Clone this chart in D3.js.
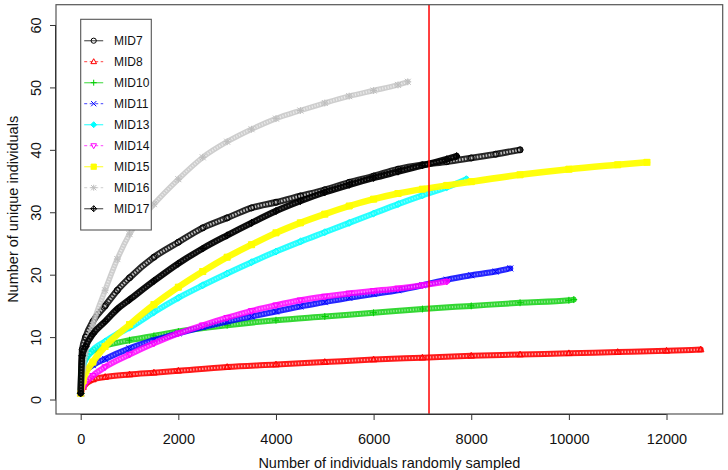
<!DOCTYPE html>
<html><head><meta charset="utf-8">
<script src="https://cdn.jsdelivr.net/npm/d3@7"></script>
<style>html,body{margin:0;padding:0;background:#fff;}svg{display:block;font-family:"Liberation Sans",Arial,Helvetica,sans-serif;}</style>
</head><body>
<svg id="chart" width="728" height="470"></svg>
<script>
// ---- data ----
const xTicks = [0, 2000, 4000, 6000, 8000, 10000, 12000];
const yTicks = [0, 10, 20, 30, 40, 50, 60];
const seriesNames = ["MID7", "MID8", "MID10", "MID11", "MID13", "MID14", "MID15", "MID16", "MID17"];
const seriesColors = ["#000000", "#FF0000", "#00CD00", "#0000FF", "#00FFFF", "#FF00FF", "#FFFF00", "#BEBEBE", "#000000"];
const seriesPch = [1, 2, 3, 4, 5, 6, 7, 8, 9];
const seriesDashed = [false, true, false, true, false, true, false, true, false];
const cutoffX = 7135;

const mid7X = [0, 30, 100, 250, 500, 750, 1000, 1500, 2000, 2500, 3000, 3500, 4000, 4500, 5000, 5500, 6000, 6500, 7000, 7500, 8000, 8500, 9000];
const mid7Y = [1, 8, 10, 12.5, 15, 17.5, 19.5, 22.8, 25.2, 27.5, 29.1, 30.7, 31.6, 32.6, 33.6, 34.8, 35.8, 36.9, 37.6, 38.1, 38.7, 39.3, 40];
const mid8X = [0, 50, 250, 500, 1000, 1500, 2000, 3000, 4000, 5000, 6000, 7000, 8000, 9000, 10000, 11000, 12000, 12700];
const mid8Y = [1, 2, 3.2, 3.6, 4, 4.3, 4.6, 5.2, 5.6, 6, 6.4, 6.7, 7, 7.2, 7.4, 7.6, 7.8, 8];
const mid10X = [0, 30, 100, 250, 500, 1000, 1500, 2000, 3000, 4000, 5000, 6000, 7000, 8000, 9000, 10000, 10100];
const mid10Y = [1, 5, 6.5, 7.8, 8.6, 9.5, 10.2, 10.9, 11.9, 12.7, 13.3, 13.9, 14.5, 15, 15.5, 15.9, 16];
const mid11X = [0, 50, 250, 500, 1000, 1500, 2000, 2500, 3000, 3500, 4000, 4500, 5000, 5500, 6000, 6500, 7000, 7500, 8000, 8500, 8800];
const mid11Y = [1, 4, 5.5, 6.5, 8.2, 9.5, 10.6, 11.6, 12.5, 13.3, 14.1, 14.9, 15.6, 16.3, 16.9, 17.5, 18.3, 19.2, 19.9, 20.5, 21];
const mid13X = [0, 50, 200, 500, 750, 1000, 1500, 2000, 2500, 3000, 3500, 4000, 4500, 5000, 5500, 6000, 6500, 7000, 7500, 7900];
const mid13Y = [1, 5.5, 7.5, 9.3, 10.5, 11.5, 14, 16.3, 18.3, 20.2, 22, 23.7, 25.3, 26.8, 28.3, 29.8, 31.3, 32.7, 34, 35.3];
const mid14X = [0, 50, 250, 500, 1000, 1500, 2000, 2500, 3000, 3500, 4000, 4500, 5000, 5500, 6000, 6500, 7000, 7500];
const mid14Y = [1, 2, 3.8, 5.2, 7.2, 9, 10.6, 11.9, 13.1, 14.2, 15.1, 15.9, 16.5, 17, 17.4, 17.8, 18.3, 18.9];
const mid15X = [0, 50, 250, 500, 1000, 1500, 2000, 2500, 3000, 3500, 4000, 4500, 5000, 5500, 6000, 6500, 7000, 7500, 8000, 9000, 10000, 11000, 11600];
const mid15Y = [1, 3, 6, 8.5, 12, 15.2, 18, 20.5, 22.8, 24.8, 26.7, 28.3, 29.7, 31, 32.1, 33, 33.7, 34.3, 34.9, 36, 36.9, 37.6, 38];
const mid16X = [0, 50, 100, 250, 500, 750, 1000, 1500, 2000, 2500, 3000, 3500, 4000, 4500, 5000, 5500, 6000, 6500, 6700];
const mid16Y = [1, 5, 7.5, 12, 17.5, 22.5, 26.5, 31.3, 35.3, 38.8, 41.3, 43.3, 45, 46.3, 47.5, 48.6, 49.5, 50.4, 50.9];
const mid17X = [0, 30, 100, 250, 500, 750, 1000, 1500, 2000, 2500, 3000, 3500, 4000, 4500, 5000, 5500, 6000, 6500, 7000, 7500, 7700];
const mid17Y = [1, 7, 8.5, 10.5, 12.5, 14.5, 16, 19, 21.8, 24.2, 26.3, 28.3, 30.2, 31.8, 33.2, 34.4, 35.5, 36.5, 37.5, 38.5, 39];

const seriesX = [mid7X, mid8X, mid10X, mid11X, mid13X, mid14X, mid15X, mid16X, mid17X];
const seriesY = [mid7Y, mid8Y, mid10Y, mid11Y, mid13Y, mid14Y, mid15Y, mid16Y, mid17Y];
const series = seriesNames.map((name, i) => ({
  name, color: seriesColors[i], pch: seriesPch[i], dashed: seriesDashed[i],
  pts: seriesX[i].map((x, j) => ({x, y: seriesY[i][j]}))
}));

// ---- layout ----
const W = 728, H = 470;
const plot = {left: 56, right: 722.7, top: 4.7, bottom: 414};
const x = d3.scaleLinear().domain([-506, 13151]).range([plot.left, plot.right]);
const y = d3.scaleLinear().domain([-2.32, 63.25]).range([plot.bottom, plot.top]);
const fontSize = 14.5;
const axisColor = "#333";

const svg = d3.select("#chart");
svg.append("rect").attr("width", W).attr("height", H).attr("fill", "#fff");

// symbol path generator (R pch style)
function pchPath(pch, r) {
  const p = d3.path();
  const t = r * 1.15;
  switch (pch) {
    case 1: p.moveTo(r, 0); p.arc(0, 0, r, 0, 2 * Math.PI); break;
    case 2: p.moveTo(0, -t); p.lineTo(t * 0.95, t * 0.65); p.lineTo(-t * 0.95, t * 0.65); p.closePath(); break;
    case 3: p.moveTo(-t, 0); p.lineTo(t, 0); p.moveTo(0, -t); p.lineTo(0, t); break;
    case 4: p.moveTo(-r, -r); p.lineTo(r, r); p.moveTo(-r, r); p.lineTo(r, -r); break;
    case 5: p.moveTo(0, -t); p.lineTo(t, 0); p.lineTo(0, t); p.lineTo(-t, 0); p.closePath(); break;
    case 6: p.moveTo(0, t); p.lineTo(t * 0.95, -t * 0.65); p.lineTo(-t * 0.95, -t * 0.65); p.closePath(); break;
    case 7: p.rect(-r, -r, 2 * r, 2 * r); p.moveTo(-r, -r); p.lineTo(r, r); p.moveTo(-r, r); p.lineTo(r, -r); break;
    case 8: p.moveTo(-t, 0); p.lineTo(t, 0); p.moveTo(0, -t); p.lineTo(0, t);
            p.moveTo(-r, -r); p.lineTo(r, r); p.moveTo(-r, r); p.lineTo(r, -r); break;
    case 9: p.moveTo(0, -t); p.lineTo(t, 0); p.lineTo(0, t); p.lineTo(-t, 0); p.closePath();
            p.moveTo(-t, 0); p.lineTo(t, 0); p.moveTo(0, -t); p.lineTo(0, t); break;
  }
  return p.toString();
}

// ---- series ----
svg.append("clipPath").attr("id", "plotclip").append("rect")
  .attr("x", plot.left).attr("y", plot.top).attr("width", plot.right - plot.left).attr("height", plot.bottom - plot.top);
const gSeries = svg.append("g").attr("clip-path", "url(#plotclip)");
const line = d3.line().x(d => x(d.x)).y(d => y(d.y)).curve(d3.curveMonotoneX);

const bandStyle = {
  1: {w: 6.5, op: 0.85, tex: 2.6, texOp: 0.7, dash: "1.6 1.4"},
  2: {w: 6, op: 0.9, tex: 2.2, texOp: 0.55, dash: "1.4 1.6"},
  3: {w: 6, op: 0.8, tex: 2.2, texOp: 0.45, dash: "1.2 1.6"},
  4: {w: 6, op: 0.85, tex: 2, texOp: 0.4, dash: "1.2 1.6"},
  5: {w: 6, op: 0.85, tex: 2, texOp: 0.4, dash: "1.2 1.6"},
  6: {w: 6, op: 0.85, tex: 2, texOp: 0.45, dash: "1.2 1.6"},
  7: {w: 6.5, op: 0.95, tex: 0, texOp: 0, dash: null},
  8: {w: 5.5, op: 0.75, tex: 2.4, texOp: 0.55, dash: "1.2 1.6"},
  9: {w: 6.5, op: 0.95, tex: 1.6, texOp: 0.3, dash: "1.2 1.8"}
};

series.forEach(s => {
  const g = gSeries.append("g");
  const st = bandStyle[s.pch];
  g.append("path").attr("d", line(s.pts)).attr("fill", "none")
    .attr("stroke", s.color).attr("stroke-width", st.w).attr("stroke-opacity", st.op)
    .attr("stroke-linecap", "round");
  if (st.tex > 0) {
    g.append("path").attr("d", line(s.pts)).attr("fill", "none")
      .attr("stroke", "#fff").attr("stroke-width", st.tex)
      .attr("stroke-opacity", st.texOp).attr("stroke-dasharray", st.dash);
  }
  g.selectAll("path.sym").data(s.pts).join("path").attr("class", "sym")
    .attr("transform", d => `translate(${x(d.x)},${y(d.y)})`)
    .attr("d", pchPath(s.pch, 3))
    .attr("fill", s.pch === 7 ? s.color : "none")
    .attr("stroke", s.color).attr("stroke-width", 1);
});

// cutoff line
svg.append("line").attr("x1", x(cutoffX)).attr("x2", x(cutoffX))
  .attr("y1", plot.top).attr("y2", plot.bottom)
  .attr("stroke", "#FF0000").attr("stroke-width", 1.5);

// frame
svg.append("rect").attr("x", plot.left).attr("y", plot.top)
  .attr("width", plot.right - plot.left).attr("height", plot.bottom - plot.top)
  .attr("fill", "none").attr("stroke", "#555").attr("stroke-width", 1.2);

// ---- axes ----
const xAxis = d3.axisBottom(x).tickValues(xTicks).tickSize(6).tickSizeOuter(0).tickPadding(14).tickFormat(d3.format("d"));
const gx = svg.append("g").attr("transform", `translate(0,${plot.bottom})`).call(xAxis);
gx.select(".domain").attr("d", `M${x(xTicks[0])},0.5H${x(xTicks[xTicks.length - 1])}`).attr("stroke", axisColor);
gx.selectAll(".tick line").attr("stroke", axisColor);
gx.selectAll(".tick text").attr("font-size", fontSize).attr("fill", "#111")
  .attr("font-family", "Liberation Sans, Arial, sans-serif");

const yAxis = d3.axisLeft(y).tickValues(yTicks).tickSize(6).tickSizeOuter(0).tickPadding(10).tickFormat(d3.format("d"));
const gy = svg.append("g").attr("transform", `translate(${plot.left},0)`).call(yAxis);
gy.select(".domain").attr("d", `M-0.5,${y(yTicks[0])}V${y(yTicks[yTicks.length - 1])}`).attr("stroke", axisColor);
gy.selectAll(".tick line").attr("stroke", axisColor);
gy.selectAll(".tick text").attr("font-size", fontSize).attr("fill", "#111")
  .attr("font-family", "Liberation Sans, Arial, sans-serif")
  .attr("text-anchor", "middle").attr("x", null).attr("dy", null)
  .attr("transform", "translate(-20,0) rotate(-90)").attr("dominant-baseline", "central");

// axis titles
svg.append("text").attr("x", (plot.left + plot.right) / 2).attr("y", 467.5)
  .attr("text-anchor", "middle").attr("font-size", fontSize).attr("fill", "#111")
  .text("Number of individuals randomly sampled");
svg.append("text").attr("transform", `translate(13,${(plot.top + plot.bottom) / 2}) rotate(-90)`)
  .attr("text-anchor", "middle").attr("dominant-baseline", "central").attr("font-size", fontSize).attr("fill", "#111")
  .text("Number of unique individuals");

// ---- legend ----
const leg = {x: 80.7, y: 19.3, w: 70.6, h: 210.7, row0: 40.7, step: 21};
const gl = svg.append("g");
gl.append("rect").attr("x", leg.x).attr("y", leg.y).attr("width", leg.w).attr("height", leg.h)
  .attr("fill", "#fff").attr("stroke", "#555").attr("stroke-width", 1.1);
series.forEach((s, i) => {
  const cy = leg.row0 + i * leg.step;
  gl.append("line").attr("x1", leg.x + 3.5).attr("x2", leg.x + 22.5).attr("y1", cy).attr("y2", cy)
    .attr("stroke", s.color).attr("stroke-opacity", s.pch === 7 || s.pch === 5 ? 0.7 : 0.6).attr("stroke-width", 1.3)
    .attr("stroke-dasharray", s.dashed ? "3 2.5" : null);
  gl.append("path").attr("transform", `translate(${leg.x + 13},${cy})`).attr("d", pchPath(s.pch, 2.6))
    .attr("fill", s.pch === 7 || s.pch === 5 ? s.color : "none").attr("stroke", s.color).attr("stroke-width", 1);
  gl.append("text").attr("x", leg.x + 33.3).attr("y", cy).attr("dominant-baseline", "central")
    .attr("font-size", 12).attr("fill", "#111").text(s.name);
});
</script>
</body></html>
